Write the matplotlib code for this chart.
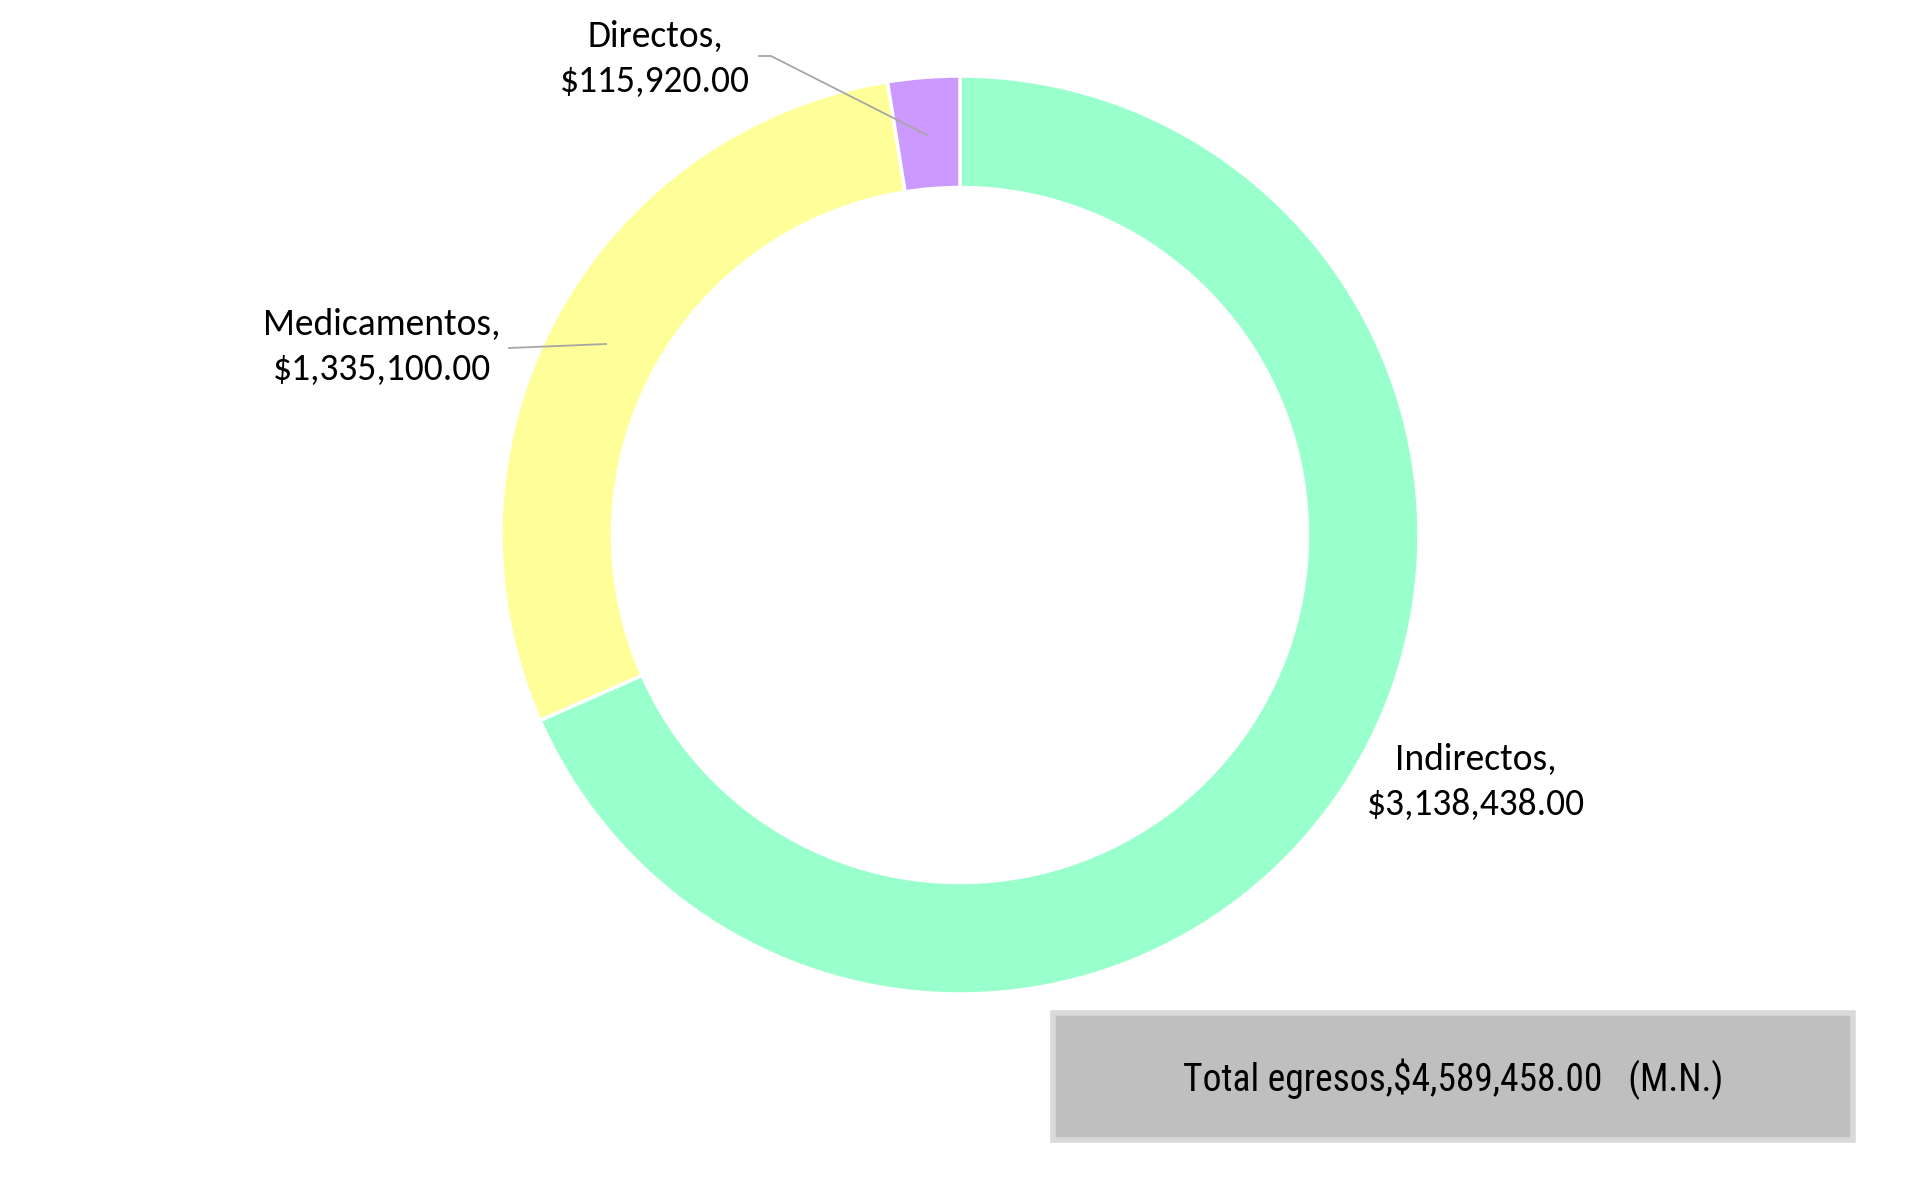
import matplotlib
matplotlib.use("Agg")
import matplotlib.pyplot as plt
from matplotlib.patches import Rectangle

categories = ["Indirectos", "Medicamentos", "Directos"]
values = [3138438.00, 1335100.00, 115920.00]
colors = ["#99FFCC", "#FFFF99", "#CC99FF"]
total_label = "Total egresos,$4,589,458.00   (M.N.)"

W, H = 1920, 1196
fig = plt.figure(figsize=(W / 100, H / 100), dpi=100)
fig.patch.set_facecolor("white")

cx, cy, R = 960, 535, 459
ax = fig.add_axes([(cx - R) / W, (H - cy - R) / H, 2 * R / W, 2 * R / H])

ax.pie(values, colors=colors, startangle=90, counterclock=False, radius=1.0,
       wedgeprops=dict(width=0.243, edgecolor="white", linewidth=2.5))
ax.set_xlim(-1, 1)
ax.set_ylim(-1, 1)
ax.set_aspect("equal")
ax.axis("off")

lab_font = ["Carlito", "DejaVu Sans"]
tot_font = ["Roboto Condensed", "DejaVu Sans"]

def px(x, y):
    return ((x - cx) / R, (cy - y) / R)

label_pos = {
    "Directos": px(655, 59),
    "Medicamentos": px(382, 347),
    "Indirectos": px(1476, 782),
}
for cat, val in zip(categories, values):
    ax.text(*label_pos[cat], f"{cat},\n${val:,.2f}", ha="center", va="center",
            fontsize=27, family=lab_font, color="black", linespacing=1.42,
            clip_on=False)

line_kw = dict(color="#A6A6A6", lw=1.3, clip_on=False)
p = [px(759, 56), px(771, 56), px(927, 135)]
ax.plot([q[0] for q in p], [q[1] for q in p], **line_kw)
p = [px(509, 348), px(606, 344)]
ax.plot([q[0] for q in p], [q[1] for q in p], **line_kw)

# total box
bx0, by0, bx1, by1 = 1053, 1013, 1853, 1140
fig.patches.append(Rectangle((bx0 / W, 1 - by1 / H), (bx1 - bx0) / W, (by1 - by0) / H,
                             transform=fig.transFigure, facecolor="#BFBFBF",
                             edgecolor="#D9D9D9", linewidth=4))
fig.text(1453 / W, 1 - 1079 / H, total_label, ha="center", va="center",
         fontsize=27, family=tot_font, weight="normal", color="black")

fig.savefig("out.png", dpi=100, facecolor="white")
